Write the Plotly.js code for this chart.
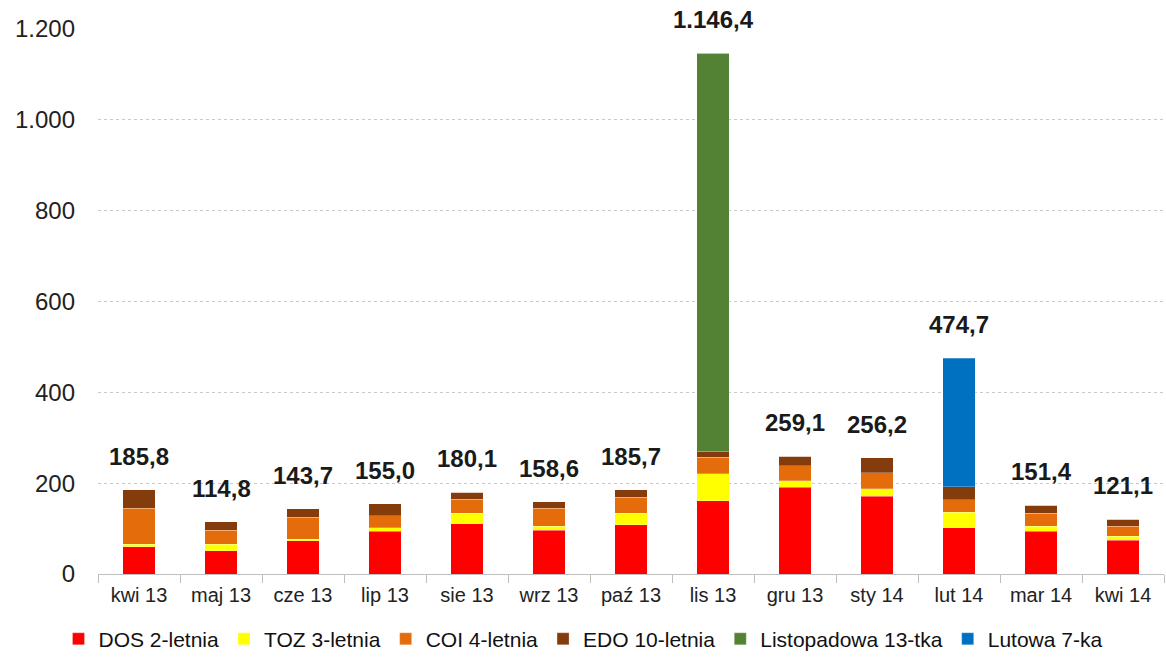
<!DOCTYPE html>
<html><head><meta charset="utf-8">
<script src="https://cdn.plot.ly/plotly-3.0.1.min.js"></script>
<style>html,body{margin:0;padding:0;background:#fff}#chart{width:1166px;height:657px}</style>
</head><body><div id="chart"></div>
<script>
const categories = ["kwi 13","maj 13","cze 13","lip 13","sie 13","wrz 13","paź 13","lis 13","gru 13","sty 14","lut 14","mar 14","kwi 14"];
const dos = [60, 51, 73, 94, 111, 96, 108, 161, 191, 171, 102, 94, 74];
const toz = [5, 14, 3, 8, 23, 9, 26, 59.5, 14, 17, 33.7, 11, 9.5];
const coi = [80, 31.5, 49, 26, 31, 39.6, 34.5, 36.6, 33.5, 34.5, 28, 28.5, 22];
const edo = [40.8, 18.3, 18.7, 27, 15.1, 14, 17.2, 13.2, 20.6, 33.7, 28.6, 17.9, 15.6];
const listopadowa = [0, 0, 0, 0, 0, 0, 0, 876.1, 0, 0, 0, 0, 0];
const lutowa = [0, 0, 0, 0, 0, 0, 0, 0, 0, 0, 282.4, 0, 0];
const yTicks = [0, 200, 400, 600, 800, 1000, 1200];

const series = [
  {name: "DOS 2-letnia", y: dos, color: "#FF0000"},
  {name: "TOZ 3-letnia", y: toz, color: "#FFFF00"},
  {name: "COI 4-letnia", y: coi, color: "#E46C0A"},
  {name: "EDO 10-letnia", y: edo, color: "#843C0C"},
  {name: "Listopadowa 13-tka", y: listopadowa, color: "#548235"},
  {name: "Lutowa 7-ka", y: lutowa, color: "#0070C0"}
];
const font = "Liberation Sans, Arial, sans-serif";
const traces = series.map(s => ({
  type: "bar", name: s.name, x: categories, y: s.y,
  marker: {color: s.color, line: {color: "rgba(255,255,255,0.5)", width: 0.5}},
  hoverinfo: "x+y+name"
}));
const totals = categories.map((c, i) => series.reduce((a, s) => a + s.y[i], 0));
function fmt(v) {
  const parts = v.toFixed(1).split(".");
  parts[0] = parts[0].replace(/\B(?=(\d{3})+(?!\d))/g, ".");
  return parts[0] + "," + parts[1];
}
const annotations = categories.map((c, i) => ({
  x: c, y: totals[i], xref: "x", yref: "y", text: "<b>" + fmt(totals[i]) + "</b>",
  showarrow: false, yanchor: "bottom", yshift: 18,
  font: {family: font, size: 24, color: "#1a1a1a"}
}));
const layout = {
  width: 1166, height: 657,
  margin: {l: 98, r: 2, t: 29, b: 83, autoexpand: false},
  paper_bgcolor: "#fff", plot_bgcolor: "#fff",
  barmode: "stack", bargap: 0.6,
  separators: ",.",
  font: {family: font, color: "#222"},
  showlegend: true,
  legend: {orientation: "h", x: 0.5, xref: "container", xanchor: "center", y: -0.082, yanchor: "top",
           font: {family: font, size: 21, color: "#111"}, traceorder: "normal", itemwidth: 30},
  xaxis: {type: "category", tickson: "boundaries", ticks: "outside", ticklen: 8, tickcolor: "#bfbfbf",
          showline: true, linecolor: "#bfbfbf", linewidth: 1, showgrid: false, tickangle: 0,
          tickfont: {family: font, size: 20, color: "#222"}, ticklabelstandoff: 3},
  yaxis: {range: [0, 1200], tickvals: yTicks, tickformat: ",d", showline: false, zeroline: false,
          showgrid: true, gridcolor: "#c8c8c8", griddash: "dot", gridwidth: 1,
          tickfont: {family: font, size: 24, color: "#222"}, ticklabelstandoff: 22},
  annotations: annotations
};
Plotly.newPlot("chart", traces, layout, {displayModeBar: false, staticPlot: true});
</script></body></html>
